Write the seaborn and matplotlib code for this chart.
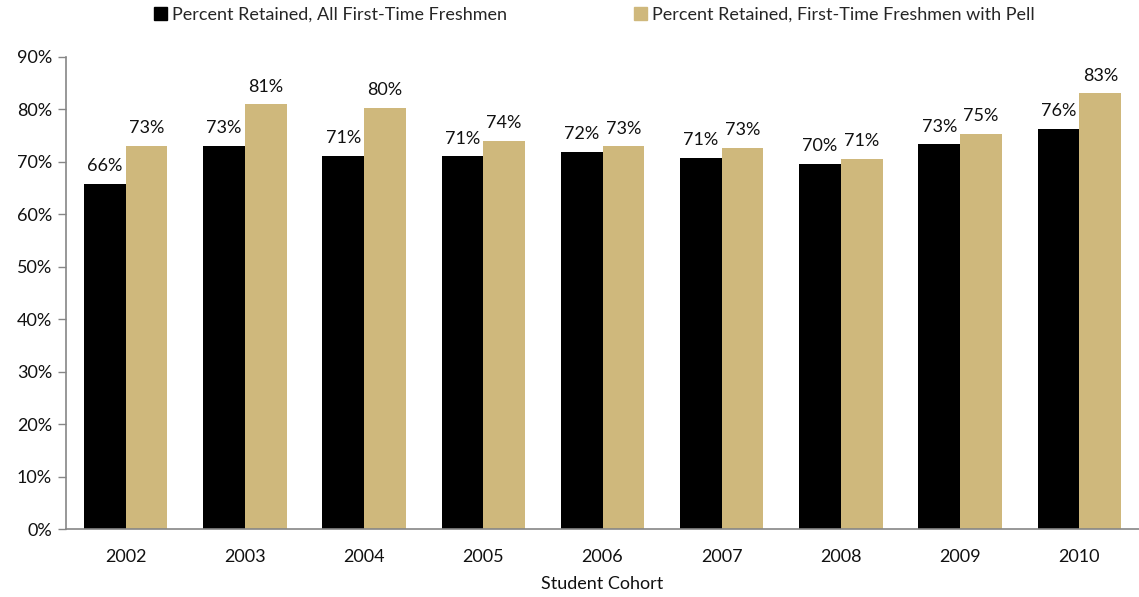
import matplotlib
matplotlib.use("Agg")
import matplotlib.pyplot as plt
import seaborn as sns
import pandas as pd
import numpy as np

cohorts = ["2002", "2003", "2004", "2005", "2006", "2007", "2008", "2009", "2010"]
all_freshmen = [65.8, 73.0, 71.1, 71.0, 71.9, 70.8, 69.6, 73.3, 76.3]
pell_freshmen = [73.0, 80.9, 80.3, 74.0, 72.9, 72.6, 70.6, 75.3, 83.0]
series_names = ["Percent Retained, All First-Time Freshmen",
                "Percent Retained, First-Time Freshmen with Pell"]
y_ticks = [0, 10, 20, 30, 40, 50, 60, 70, 80, 90]

sns.set_theme(style="white")
plt.rcParams["font.family"] = ["Lato", "DejaVu Sans"]

df = pd.DataFrame({
    "cohort": cohorts * 2,
    "value": all_freshmen + pell_freshmen,
    "series": [series_names[0]] * len(cohorts) + [series_names[1]] * len(cohorts),
})

fig = plt.figure(figsize=(11.39, 5.97), dpi=100)
ax = fig.add_axes([66 / 1139, 67.7 / 597, (1139 - 66) / 1139, (529.3 - 56.7) / 597])

palette = {series_names[0]: "#000000", series_names[1]: "#CFB87C"}
sns.barplot(data=df, x="cohort", y="value", hue="series", palette=palette,
            width=0.7, gap=0, saturation=1, ax=ax, errorbar=None, linewidth=0)

fs = 13
for cont, vals in zip(ax.containers, [all_freshmen, pell_freshmen]):
    ax.bar_label(cont, labels=[f"{v:.0f}%" for v in vals], padding=7,
                 fontsize=fs, color="#111111")

gray = "#868686"
ax.set_ylim(0, 90)
ax.set_yticks(y_ticks)
ax.set_yticklabels([f"{t}%" for t in y_ticks], fontsize=fs, color="#111111")
ax.set_xlim(-0.5, -0.5 + (1139 - 66) / 119.6)
ax.set_xticks(range(len(cohorts)))
ax.set_xticklabels(cohorts, fontsize=fs, color="#111111")
ax.set_xticks(np.arange(-0.5, len(cohorts), 1.0), minor=True)
ax.tick_params(axis="x", which="major", length=0, pad=14)
ax.tick_params(axis="x", which="minor", length=6, width=1, color=gray, direction="out")
ax.tick_params(axis="y", which="major", length=6, width=1, color=gray, direction="out", pad=4, left=True)
ax.set_xlabel("Student Cohort", fontsize=fs, color="#111111", labelpad=8)
ax.set_ylabel("")
for s in ["top", "right"]:
    ax.spines[s].set_visible(False)
for s in ["left", "bottom"]:
    ax.spines[s].set_color(gray)
    ax.spines[s].set_linewidth(1.2)

ax.legend_.remove()
handles = [plt.Rectangle((0, 0), 1, 1, color=palette[n]) for n in series_names]
fig.legend(handles, series_names, loc="center", bbox_to_anchor=(0.522, 0.975), ncol=2,
           frameon=False, fontsize=fs, handlelength=0.7, handleheight=0.7,
           handletextpad=0.3, columnspacing=7.0, borderaxespad=0)

fig.savefig("out.png", dpi=100)
